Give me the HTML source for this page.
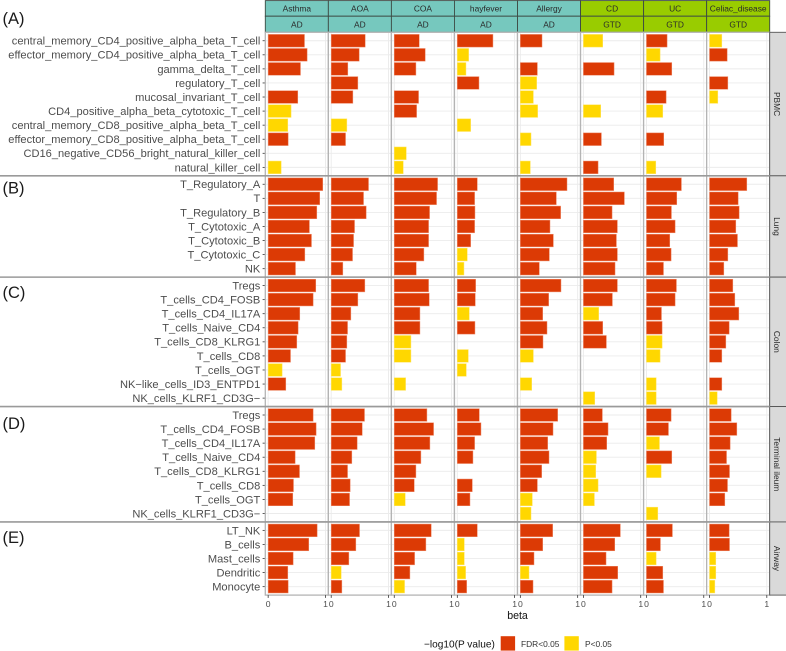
<!DOCTYPE html>
<html>
<head>
<meta charset="utf-8">
<title>Immune cell enrichment chart</title>
<style>
html,body{margin:0;padding:0;background:#fff;}
svg{display:block;font-family:"Liberation Sans",sans-serif;}
</style>
</head>
<body>
<svg id="chart" xmlns="http://www.w3.org/2000/svg" width="786" height="651" viewBox="0 0 786 651"></svg>
<script>
const diseases = ['Asthma','AOA','COA','hayfever','Allergy','CD','UC','Celiac_disease'];
const groups = ['AD','AD','AD','AD','AD','GTD','GTD','GTD'];
const tissueNames = ['PBMC','Lung','Colon','Terminal ileum','Airway'];
const sectionLetters = ['(A)','(B)','(C)','(D)','(E)'];
const xTicks = [0, 1];

const pbmcCells = ['central_memory_CD4_positive_alpha_beta_T_cell','effector_memory_CD4_positive_alpha_beta_T_cell','gamma_delta_T_cell','regulatory_T_cell','mucosal_invariant_T_cell','CD4_positive_alpha_beta_cytotoxic_T_cell','central_memory_CD8_positive_alpha_beta_T_cell','effector_memory_CD8_positive_alpha_beta_T_cell','CD16_negative_CD56_bright_natural_killer_cell','natural_killer_cell'];
const lungCells = ['T_Regulatory_A','T','T_Regulatory_B','T_Cytotoxic_A','T_Cytotoxic_B','T_Cytotoxic_C','NK'];
const colonCells = ['Tregs','T_cells_CD4_FOSB','T_cells_CD4_IL17A','T_cells_Naive_CD4','T_cells_CD8_KLRG1','T_cells_CD8','T_cells_OGT','NK\u2212like_cells_ID3_ENTPD1','NK_cells_KLRF1_CD3G\u2212'];
const ileumCells = ['Tregs','T_cells_CD4_FOSB','T_cells_CD4_IL17A','T_cells_Naive_CD4','T_cells_CD8_KLRG1','T_cells_CD8','T_cells_OGT','NK_cells_KLRF1_CD3G\u2212'];
const airwayCells = ['LT_NK','B_cells','Mast_cells','Dendritic','Monocyte'];

const pbmcBeta = [
 [.634,.68,.564,null,.517,.40,.343,.349,null,.227],
 [.593,.488,.29,.465,.378,null,.273,.25,null,null],
 [.436,.54,.378,null,.424,.39,null,null,.21,.157],
 [.622,.198,.151,.378,null,null,.233,null,null,null],
 [.378,null,.297,.285,.227,.302,null,.186,null,.174],
 [.337,null,.535,null,null,.302,null,.314,null,.256],
 [.36,.238,.442,null,.343,.285,null,.302,null,.163],
 [.215,.308,null,.32,.145,null,null,null,null,null]
];
const pbmcSig = ['FFF-FPPF-P','FFFFF-PF--','FFF-FF--PP','FPPF--P---','F-FPPP-P-P','P-F--P-F-F','FPF-FP-F-P','PF-FP-----'];

const lungBeta = [
 [.953,.90,.849,.72,.756,.64,.477],
 [.651,.564,.61,.407,.39,.372,.203],
 [.756,.738,.616,.599,.599,.517,.384],
 [.349,.302,.308,.302,.233,.174,.116],
 [.814,.628,.703,.517,.576,.506,.331],
 [.529,.715,.5,.593,.576,.593,.552],
 [.61,.529,.436,.5,.407,.43,.297],
 [.651,.5,.517,.459,.488,.32,.25]
];
const lungSig = ['FFFFFFF','FFFFFFF','FFFFFFF','FFFFFPP','FFFFFFF','FFFFFFF','FFFFFFF','FFFFFFF'];

const colonBeta = [
 [.831,.785,.552,.523,.5,.39,.244,.308,null],
 [.587,.465,.343,.285,.273,.25,.163,.186,null],
 [.599,.61,.448,.448,.291,.291,null,.198,null],
 [.32,.314,.209,.308,null,.192,.157,null,null],
 [.709,.494,.39,.465,.395,.227,null,.198,null],
 [.593,.506,.267,.337,.401,null,null,null,.198],
 [.523,.5,.262,.273,.273,.238,null,.169,.169],
 [.407,.442,.512,.343,.285,.215,null,.215,.134]
];
const colonSig = ['FFFFFFPF-','FFFFFFPP-','FFFFPP-P-','FFPF-PP--','FFFFFP-P-','FFPFF---P','FFFFPP-PP','FFFFFF-FP'];

const ileumBeta = [
 [.785,.837,.814,.471,.547,.442,.43,null],
 [.581,.541,.453,.36,.285,.331,.32,null],
 [.57,.686,.622,.465,.378,.349,.192,null],
 [.384,.413,.302,.273,null,.262,.221,null],
 [.651,.57,.477,.5,.372,.297,.209,.186],
 [.331,.43,.407,.227,.215,.256,.192,null],
 [.43,.384,.227,.442,.256,null,null,.198],
 [.378,.477,.36,.297,.349,.314,.267,null]
];
const ileumSig = ['FFFFFFF-','FFFFFFF-','FFFFFFP-','FFFF-FF-','FFFFFFPP','FFFPPPP-','FFPFP--P','FFFFFFF-'];

const airwayBeta = [
 [.855,.709,.436,.343,.349],
 [.494,.43,.308,.174,.186],
 [.645,.552,.355,.273,.18],
 [.349,.122,.122,.145,.163],
 [.564,.39,.238,.151,.221],
 [.645,.547,.395,.599,.5],
 [.453,.244,.169,.285,.297],
 [.343,.349,.11,.11,.093]
];
const airwaySig = ['FFFFF','FFFPF','FFFFP','FPPPF','FFFPF','FFFFF','FFPFF','FFPPP'];

const tissueCells = [pbmcCells, lungCells, colonCells, ileumCells, airwayCells];
const tissueBeta = [pbmcBeta, lungBeta, colonBeta, ileumBeta, airwayBeta];
const tissueSig = [pbmcSig, lungSig, colonSig, ileumSig, airwaySig];

const legendTitle = '\u2212log10(P value)';
const legendLabels = ['FDR<0.05','P<0.05'];
const axisTitle = 'beta';

const RED = '#dc3a05', YEL = '#ffd700', TEAL = '#76c8be', GREEN = '#99cc00';
const LEFT = 265.3, PITCH = 63.05, ROW = 14.07, TOP = 32.3, UNIT = 57.3, PAD = 2.86;
const svg = document.getElementById('chart');
const NS = 'http://www.w3.org/2000/svg';

function mk(tag, attrs, parent, text) {
  const e = document.createElementNS(NS, tag);
  for (const k in attrs) e.setAttribute(k, attrs[k]);
  if (text !== undefined) e.textContent = text;
  (parent || svg).appendChild(e);
  return e;
}
function panelLeft(i) { return LEFT + i * PITCH; }
function xScale(i, v) { return panelLeft(i) + PAD + v * UNIT; }
function panelTop(t) {
  let y = TOP;
  for (let k = 0; k < t; k++) y += (tissueCells[k].length + 0.2) * ROW;
  return y;
}
function panelHeight(t) { return (tissueCells[t].length + 0.2) * ROW; }
function yScale(t, r) { return panelTop(t) + (0.6 + r) * ROW; }
const bottom = panelTop(tissueNames.length);

// Top strips
diseases.forEach(function (d, i) {
  const fill = groups[i] === 'AD' ? TEAL : GREEN;
  const x = panelLeft(i);
  const r1 = mk('rect', {x: x, y: 0.6, width: PITCH, height: 15.6, fill: fill, stroke: '#3d4a44', 'stroke-width': 0.9});
  
  
  const r2 = mk('rect', {x: x, y: 16.2, width: PITCH, height: 16.1, fill: fill, stroke: '#3d4a44', 'stroke-width': 0.9});
  
  
  const t1 = mk('text', {x: x + PITCH / 2, y: 11.4, 'text-anchor': 'middle', 'font-size': 8.4, fill: '#2a2a2a'}, svg, d);
  
  
  const t2 = mk('text', {x: x + PITCH / 2, y: 27.3, 'text-anchor': 'middle', 'font-size': 8.4, fill: '#2a2a2a'}, svg, groups[i]);
  
  
});

tissueNames.forEach(function (name, t) {
  const top = panelTop(t), h = panelHeight(t), cells = tissueCells[t];

  // section letter
  const capBase = [24, 193.3, 298, 429, 543][t];
  const letter = mk('text', {x: 2.5, y: capBase, 'font-size': 16.5, fill: '#1a1a1a'}, svg, sectionLetters[t]);
  
  

  // y tick labels and ticks
  cells.forEach(function (c, r) {
    const y = yScale(t, r);
    const lab = mk('text', {x: 260.3, y: y + 3.9, 'text-anchor': 'end', 'font-size': 11.1, fill: '#4d4d4d'}, svg, c);
    
    
    const tk = mk('line', {x1: 262.6, x2: LEFT, y1: y, y2: y, stroke: '#333', 'stroke-width': 0.8});
    
    
  });

  // panels
  diseases.forEach(function (d, i) {
    const x = panelLeft(i);
    const g = mk('g', {});
    
    
    mk('rect', {x: x, y: top, width: PITCH, height: h, fill: '#fff'}, g);
    cells.forEach(function (c, r) {
      const gl = mk('line', {x1: x, x2: x + PITCH, y1: yScale(t, r), y2: yScale(t, r), stroke: '#ebebeb', 'stroke-width': 0.9}, g);
      
      
    });
    xTicks.forEach(function (v) {
      const gv = mk('line', {x1: xScale(i, v), x2: xScale(i, v), y1: top, y2: top + h, stroke: '#ebebeb', 'stroke-width': 0.9}, g);
      
      
    });
    tissueBeta[t][i].forEach(function (v, r) {
      if (v === null) return;
      const sig = tissueSig[t][i].charAt(r);
      const b = mk('rect', {
        x: xScale(i, 0), y: yScale(t, r) - 0.45 * ROW,
        width: xScale(i, v) - xScale(i, 0), height: 0.9 * ROW,
        fill: sig === 'F' ? RED : YEL,
        stroke: sig === 'F' ? '#ee8c6c' : '#ffe566', 'stroke-width': 0.5
      }, g);
      
      
    });
    const border = mk('rect', {x: x, y: top, width: PITCH, height: h, fill: 'none', stroke: '#b4b4b4', 'stroke-width': 1.3}, g);
    
    
  });

  // right strip
  const sx = panelLeft(diseases.length);
  const s = mk('rect', {x: sx, y: top, width: 786 - sx + 2, height: h, fill: '#d9d9d9', stroke: '#555', 'stroke-width': 0.9});
  
  
  const cy = top + h / 2;
  const st = mk('text', {x: 773.8, y: cy, 'text-anchor': 'middle', 'font-size': 8.4, fill: '#2a2a2a', transform: 'rotate(90 773.8 ' + cy + ')'}, svg, name);
  
  

  // separators across the full width
  if (t > 0) {
    const sep = mk('line', {x1: 0, x2: sx, y1: top, y2: top, stroke: '#9a9a9a', 'stroke-width': 1.6});
    
    
  }
});

// x axis
diseases.forEach(function (d, i) {
  xTicks.forEach(function (v) {
    const x = xScale(i, v);
    const tk = mk('line', {x1: x, x2: x, y1: bottom, y2: bottom + 2.8, stroke: '#333', 'stroke-width': 0.8});
    
    
    const lab = mk('text', {x: x, y: bottom + 12, 'text-anchor': 'middle', 'font-size': 8.6, fill: '#4d4d4d'}, svg, String(v));
    
    
  });
});
const xTitle = mk('text', {x: 517.5, y: 618.8, 'text-anchor': 'middle', 'font-size': 10.6, fill: '#111'}, svg, axisTitle);



// legend
const lt = mk('text', {x: 424, y: 647.6, 'font-size': 10.1, fill: '#111'}, svg, legendTitle);


const sw1 = mk('rect', {x: 500.7, y: 636.2, width: 14.4, height: 14.4, fill: RED});


const ll1 = mk('text', {x: 521, y: 647, 'font-size': 8.4, fill: '#333'}, svg, legendLabels[0]);


const sw2 = mk('rect', {x: 564.4, y: 636.2, width: 14.4, height: 14.4, fill: YEL});


const ll2 = mk('text', {x: 585, y: 647, 'font-size': 8.4, fill: '#333'}, svg, legendLabels[1]);


</script>
</body>
</html>
